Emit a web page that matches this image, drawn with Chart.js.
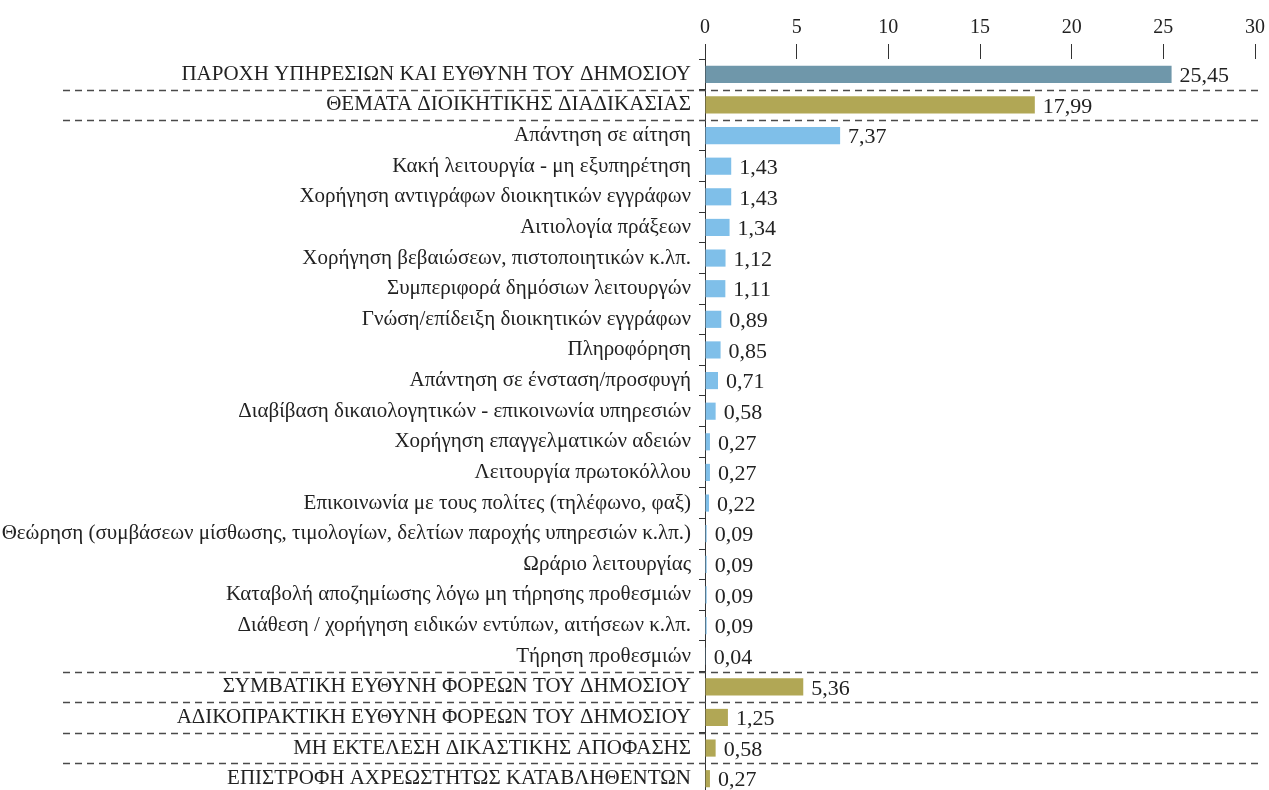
<!DOCTYPE html>
<html lang="el">
<head>
<meta charset="utf-8">
<title>Κατανομή υποθέσεων</title>
<script src="https://cdn.jsdelivr.net/npm/chart.js@4.4.1/dist/chart.umd.min.js"></script>
<style>
  html, body { margin: 0; padding: 0; background: #fff; overflow: hidden; }
  canvas { display: block; }
</style>
</head>
<body>
<canvas id="chart" width="1269" height="800" style="width:1269px;height:800px"></canvas>
<script>
// Categories, top to bottom
const categories = [
  "ΠΑΡΟΧΗ ΥΠΗΡΕΣΙΩΝ ΚΑΙ ΕΥΘΥΝΗ ΤΟΥ ΔΗΜΟΣΙΟΥ",
  "ΘΕΜΑΤΑ ΔΙΟΙΚΗΤΙΚΗΣ ΔΙΑΔΙΚΑΣΙΑΣ",
  "Απάντηση σε αίτηση",
  "Κακή λειτουργία - μη εξυπηρέτηση",
  "Χορήγηση αντιγράφων διοικητικών εγγράφων",
  "Αιτιολογία πράξεων",
  "Χορήγηση βεβαιώσεων, πιστοποιητικών κ.λπ.",
  "Συμπεριφορά δημόσιων λειτουργών",
  "Γνώση/επίδειξη διοικητικών εγγράφων",
  "Πληροφόρηση",
  "Απάντηση σε ένσταση/προσφυγή",
  "Διαβίβαση δικαιολογητικών - επικοινωνία υπηρεσιών",
  "Χορήγηση επαγγελματικών αδειών",
  "Λειτουργία πρωτοκόλλου",
  "Επικοινωνία με τους πολίτες (τηλέφωνο, φαξ)",
  "Θεώρηση (συμβάσεων μίσθωσης, τιμολογίων, δελτίων παροχής υπηρεσιών κ.λπ.)",
  "Ωράριο λειτουργίας",
  "Καταβολή αποζημίωσης λόγω μη τήρησης προθεσμιών",
  "Διάθεση / χορήγηση ειδικών εντύπων, αιτήσεων κ.λπ.",
  "Τήρηση προθεσμιών",
  "ΣΥΜΒΑΤΙΚΗ ΕΥΘΥΝΗ ΦΟΡΕΩΝ ΤΟΥ ΔΗΜΟΣΙΟΥ",
  "ΑΔΙΚΟΠΡΑΚΤΙΚΗ ΕΥΘΥΝΗ ΦΟΡΕΩΝ ΤΟΥ ΔΗΜΟΣΙΟΥ",
  "ΜΗ ΕΚΤΕΛΕΣΗ ΔΙΚΑΣΤΙΚΗΣ ΑΠΟΦΑΣΗΣ",
  "ΕΠΙΣΤΡΟΦΗ ΑΧΡΕΩΣΤΗΤΩΣ ΚΑΤΑΒΛΗΘΕΝΤΩΝ"
];

// Percentages
const values = [
  25.45, 17.99, 7.37, 1.43, 1.43, 1.34, 1.12, 1.11, 0.89, 0.85, 0.71, 0.58,
  0.27, 0.27, 0.22, 0.09, 0.09, 0.09, 0.09, 0.04, 5.36, 1.25, 0.58, 0.27
];

// Row role: overall total, thematic group, or sub-item of a group
const rowKinds = [
  "total", "group",
  "item", "item", "item", "item", "item", "item", "item", "item", "item",
  "item", "item", "item", "item", "item", "item", "item", "item", "item",
  "group", "group", "group", "group"
];

// Axis ticks
const xTicks = [0, 5, 10, 15, 20, 25, 30];

const kindColors = { total: "#6f97aa", group: "#b1a755", item: "#7fbfe9" };
const FONT = "'Liberation Serif', 'Times New Roman', serif";

// Dashed separators across the whole row, around group rows
const separators = {
  id: "separators",
  afterDraw(chart) {
    const y = chart.scales.y;
    const ctx = chart.ctx;
    ctx.save();
    ctx.setLineDash([7, 5]);
    ctx.lineWidth = 1.3;
    ctx.strokeStyle = "#4a4a4a";
    for (let i = 1; i < categories.length; i++) {
      if (rowKinds[i] !== "item" || rowKinds[i - 1] !== "item") {
        const py = Math.round((y.getPixelForValue(i - 1) + y.getPixelForValue(i)) / 2) + 0.5;
        ctx.beginPath();
        ctx.moveTo(63, py);
        ctx.lineTo(1261, py);
        ctx.stroke();
      }
    }
    ctx.restore();
  }
};

// Value labels at the end of each bar, decimal comma
const valueLabels = {
  id: "valueLabels",
  afterDatasetsDraw(chart) {
    const ctx = chart.ctx;
    const meta = chart.getDatasetMeta(0);
    ctx.save();
    ctx.font = "22px " + FONT;
    ctx.fillStyle = "#222";
    ctx.textAlign = "left";
    ctx.textBaseline = "middle";
    meta.data.forEach((bar, i) => {
      const txt = values[i].toFixed(2).replace(".", ",");
      ctx.fillText(txt, bar.x + 8, bar.y + 2);
    });
    ctx.restore();
  }
};

new Chart(document.getElementById("chart"), {
  type: "bar",
  data: {
    labels: categories,
    datasets: [{
      data: values,
      backgroundColor: rowKinds.map(k => kindColors[k]),
      borderWidth: 0,
      barPercentage: 0.56,
      categoryPercentage: 1.0
    }]
  },
  options: {
    indexAxis: "y",
    responsive: false,
    maintainAspectRatio: false,
    animation: false,
    layout: { padding: { top: 12, right: 12, left: 0, bottom: 6 } },
    plugins: {
      legend: { display: false },
      tooltip: { enabled: false }
    },
    scales: {
      x: {
        position: "top",
        min: 0,
        max: 30,
        afterBuildTicks(scale) { scale.ticks = xTicks.map(v => ({ value: v })); },
        border: { display: false },
        grid: {
          drawOnChartArea: false,
          drawTicks: true,
          tickLength: 15,
          color: "#333",
          lineWidth: 1
        },
        ticks: {
          color: "#222",
          padding: 4,
          font: { family: FONT, size: 20 }
        }
      },
      y: {
        afterFit(scale) {
          scale.width = 705;
          scale.paddingTop = 0;
          scale.paddingBottom = 0;
        },
        border: { display: true, color: "#333", width: 1 },
        grid: {
          offset: true,
          drawOnChartArea: false,
          drawTicks: true,
          tickLength: 6,
          color: "#333"
        },
        ticks: {
          color: "#222",
          padding: 8,
          autoSkip: false,
          font: { family: FONT, size: 21 }
        }
      }
    }
  },
  plugins: [separators, valueLabels]
});
</script>
</body>
</html>
